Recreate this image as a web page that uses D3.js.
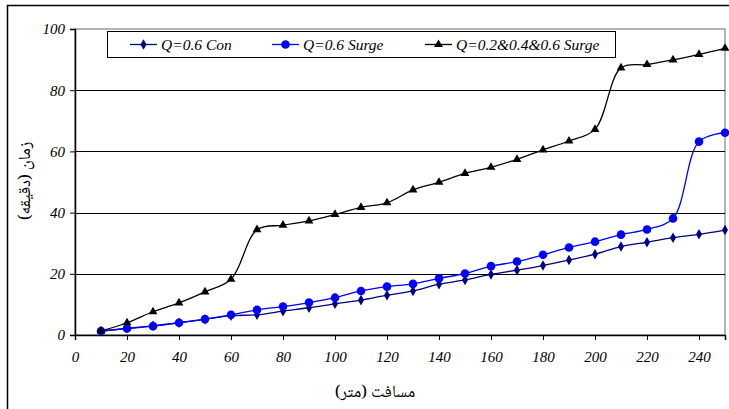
<!DOCTYPE html>
<html>
<head>
<meta charset="utf-8">
<script src="https://cdn.jsdelivr.net/npm/d3@7/dist/d3.min.js"></script>
<style>
  html, body { margin: 0; padding: 0; background: #fff; }
  svg { display: block; }
</style>
</head>
<body>
<div id="chart"></div>
<script>
// distance (m)
const distances = [10, 20, 30, 40, 50, 60, 70, 80, 90, 100, 110, 120, 130,
  140, 150, 160, 170, 180, 190, 200, 210, 220, 230, 240, 250];

// Q=0.6 Con
const conTimes = [1.2, 2.2, 3.0, 4.0, 5.1, 6.3, 6.6, 7.8, 8.9, 10.2, 11.4, 13.0, 14.4,
  16.6, 18.0, 19.8, 21.2, 22.7, 24.5, 26.4, 28.9, 30.3, 31.8, 32.9, 34.3];

// Q=0.6 Surge
const surgeTimes = [1.3, 2.1, 2.9, 4.0, 5.2, 6.6, 8.2, 9.3, 10.6, 12.2, 14.4, 15.8, 16.7,
  18.5, 20.1, 22.5, 24.0, 26.2, 28.6, 30.5, 32.8, 34.5, 38.1, 63.2, 66.1];

// Q=0.2&0.4&0.6 Surge
const mixTimes = [1.3, 4.0, 7.6, 10.5, 14.1, 18.2, 34.4, 35.9, 37.3, 39.4, 41.7, 43.2, 47.4,
  49.9, 52.8, 54.8, 57.4, 60.5, 63.4, 67.2, 87.3, 88.4, 89.9, 91.7, 93.7];

const xTicks = d3.range(0, 241, 20);
const yTicks = [0, 20, 40, 60, 80, 100];

const series = [
  { name: 'Q=0.6 Con', values: conTimes, color: '#000080', marker: 'diamond' },
  { name: 'Q=0.6 Surge', values: surgeTimes, color: '#0000ff', marker: 'circle' },
  { name: 'Q=0.2&0.4&0.6 Surge', values: mixTimes, color: '#000000', marker: 'triangle' }
];

const W = 729, H = 409;
const plot = { left: 75, right: 725, top: 29, bottom: 335 };
const SERIF = "'Liberation Serif'";
const NASKH = "'Noto Naskh Arabic'";

const svg = d3.select('#chart').append('svg')
  .attr('width', W)
  .attr('height', H);

// outer chart frame
svg.append('rect')
  .attr('x', 7.5).attr('y', 5.5)
  .attr('width', W + 10).attr('height', H + 10)
  .attr('fill', '#fff')
  .attr('stroke', '#000')
  .attr('stroke-width', 1.5);

const x = d3.scaleLinear().domain([0, 250]).range([plot.left, plot.right]);
const y = d3.scaleLinear().domain([0, 100]).range([plot.bottom, plot.top]);

// plot area border (grey)
svg.append('rect')
  .attr('x', plot.left).attr('y', plot.top)
  .attr('width', plot.right - plot.left)
  .attr('height', plot.bottom - plot.top)
  .attr('fill', 'none')
  .attr('stroke', '#9a9a9a')
  .attr('stroke-width', 1.5);

// gridlines
svg.append('g')
  .selectAll('line')
  .data(yTicks.filter(d => d > 0 && d < 100))
  .join('line')
  .attr('x1', plot.left).attr('x2', plot.right)
  .attr('y1', d => Math.round(y(d)) + 0.5)
  .attr('y2', d => Math.round(y(d)) + 0.5)
  .attr('stroke', '#000')
  .attr('stroke-width', 1);

// axes
const xAxis = d3.axisBottom(x).tickValues(xTicks).tickSize(5).tickPadding(7);
const yAxis = d3.axisLeft(y).tickValues(yTicks).tickSize(5).tickPadding(6);

const gx = svg.append('g')
  .attr('transform', `translate(0,${plot.bottom})`)
  .call(xAxis);
const gy = svg.append('g')
  .attr('transform', `translate(${plot.left},0)`)
  .call(yAxis);

[gx, gy].forEach(g => {
  g.select('.domain').attr('stroke', '#000').attr('stroke-width', 1.5);
  g.selectAll('.tick line').attr('stroke', '#000');
  g.selectAll('.tick text')
    .style('font-family', SERIF)
    .style('font-style', 'italic')
    .style('font-size', '15px')
    .attr('fill', '#000');
});
gx.selectAll('.tick text').attr('dy', '1em');
gy.selectAll('.tick text').attr('x', -10);

// series lines
const line = d3.line()
  .x((d, i) => x(distances[i]))
  .y(d => y(d))
  .curve(d3.curveCatmullRom.alpha(0.5));

const symbolFor = {
  diamond: d3.symbol().type(d3.symbolDiamond).size(32),
  circle: d3.symbol().type(d3.symbolCircle).size(58),
  triangle: d3.symbol().type(d3.symbolTriangle).size(34)
};

series.forEach(s => {
  svg.append('path')
    .datum(s.values)
    .attr('d', line)
    .attr('fill', 'none')
    .attr('stroke', s.color)
    .attr('stroke-width', 1.3);
});

series.forEach(s => {
  svg.append('g')
    .selectAll('path')
    .data(s.values)
    .join('path')
    .attr('transform', (d, i) => `translate(${x(distances[i])},${y(d)})`)
    .attr('d', symbolFor[s.marker])
    .attr('fill', s.color);
});

// legend
const legend = svg.append('g');
legend.append('rect')
  .attr('x', 107.5).attr('y', 31.5)
  .attr('width', 508).attr('height', 26)
  .attr('fill', '#fff')
  .attr('stroke', '#000')
  .attr('stroke-width', 1);

const legendX = [130, 272, 425];
series.forEach((s, i) => {
  const lx = legendX[i];
  const ly = 44.5;
  legend.append('line')
    .attr('x1', lx).attr('x2', lx + 27)
    .attr('y1', ly).attr('y2', ly)
    .attr('stroke', s.color)
    .attr('stroke-width', 1.3);
  legend.append('path')
    .attr('transform', `translate(${lx + 13.5},${ly})`)
    .attr('d', symbolFor[s.marker])
    .attr('fill', s.color);
  legend.append('text')
    .attr('x', lx + 31)
    .attr('y', ly + 5)
    .style('font-family', SERIF)
    .style('font-style', 'italic')
    .style('font-size', '15.5px')
    .attr('fill', '#000')
    .text(s.name);
});

// axis titles
svg.append('text')
  .attr('x', 375)
  .attr('y', 397)
  .attr('text-anchor', 'middle')
  .style('font-family', NASKH)
  .style('font-size', '17px')
  .attr('fill', '#000')
  .text('مسافت (متر)');

svg.append('text')
  .attr('transform', 'translate(30,181) rotate(-90)')
  .attr('text-anchor', 'middle')
  .style('font-family', NASKH)
  .style('font-size', '17px')
  .attr('fill', '#000')
  .text('زمان (دقیقه)');
</script>
</body>
</html>
